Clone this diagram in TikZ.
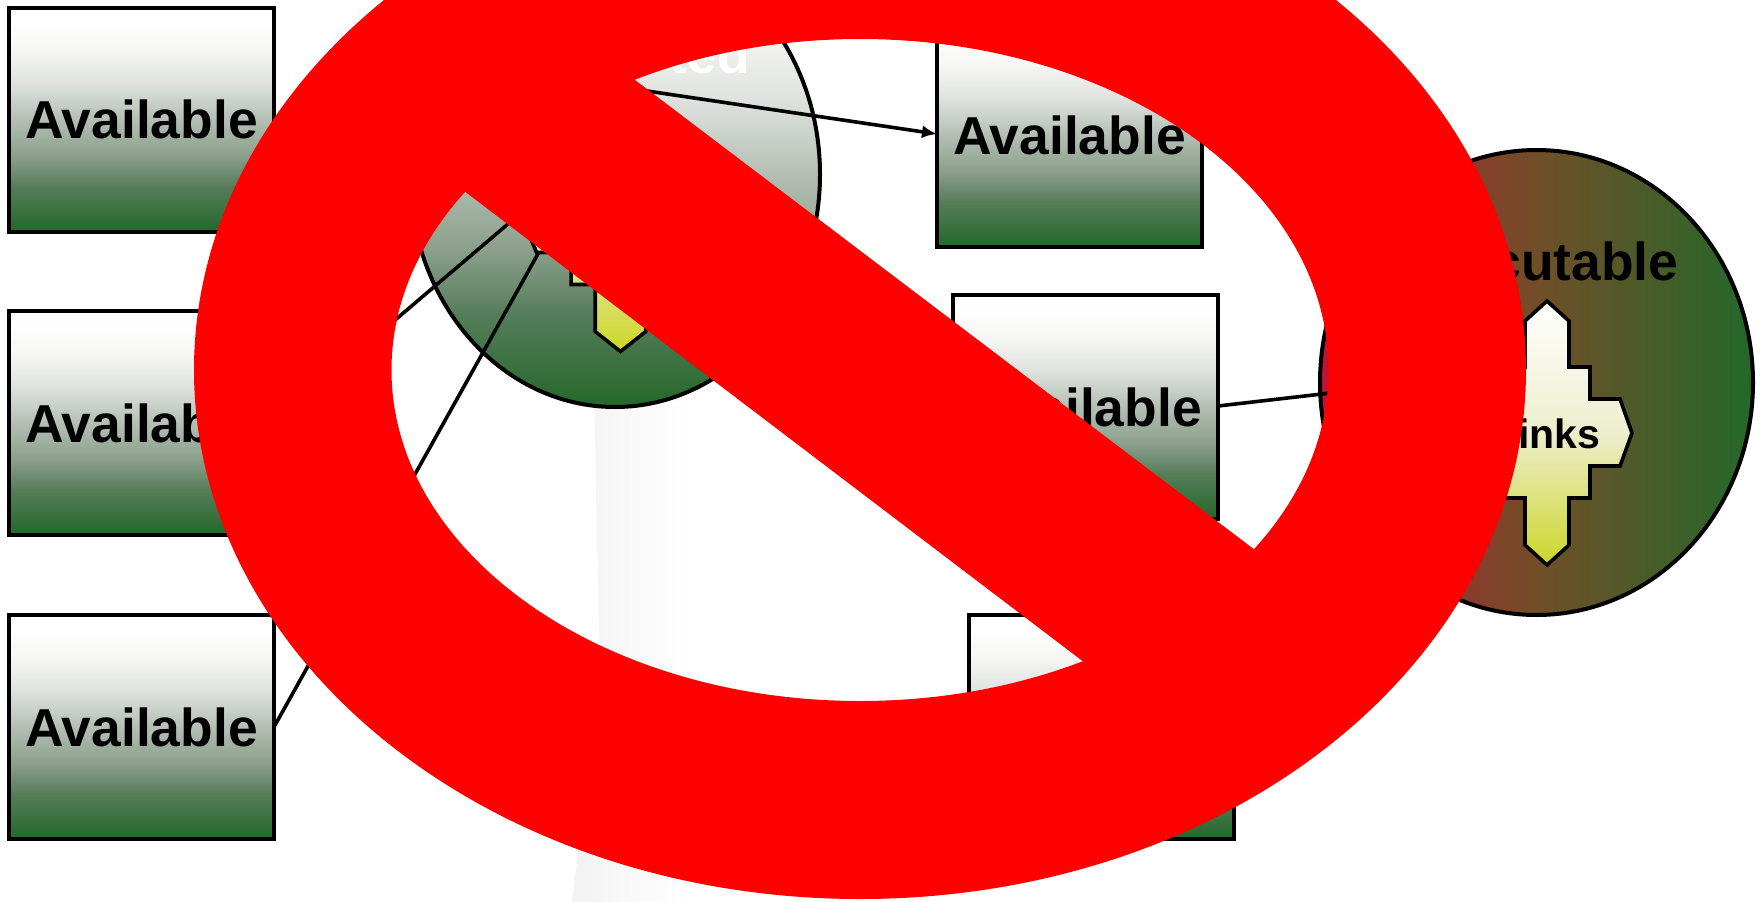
\documentclass[tikz,border=0pt]{standalone}
\usepackage{fontspec}
\setmainfont{Liberation Sans}
\usetikzlibrary{shapes.geometric,arrows.meta}

\definecolor{boxgreen}{RGB}{36,104,42}
\definecolor{linkyellow}{RGB}{204,214,40}
\definecolor{exered}{RGB}{190,20,50}
\definecolor{exemid}{RGB}{113,78,40}
\definecolor{linkmid}{RGB}{236,238,205}
\pgfdeclareverticalshading{availshade}{100bp}{rgb(0bp)=(.141,.408,.165); rgb(25bp)=(.141,.408,.165);
 rgb(35bp)=(.333,.49,.353); rgb(42bp)=(.549,.627,.549);
 rgb(50bp)=(.706,.749,.706); rgb(58bp)=(.871,.886,.871);
 rgb(65bp)=(.961,.961,.953); rgb(72bp)=(1,1,1); rgb(100bp)=(1,1,1)}
\tikzset{
 avail/.style={draw,line width=4pt,rectangle,minimum width=265pt,minimum height=224pt,inner sep=0pt,outer sep=0pt,
  shading=availshade,font=\fontsize{53.4pt}{60pt}\selectfont\bfseries},
 blob/.style={draw,line width=4pt,ellipse,inner sep=0pt,outer sep=0pt,minimum height=465pt},
 biglabel/.style={font=\fontsize{53.4pt}{60pt}\selectfont\bfseries,inner sep=0pt},
 linklabel/.style={font=\fontsize{41pt}{46pt}\selectfont\bfseries,inner sep=0pt},
 linkshape/.style={draw,line width=3.6pt,top color=white,bottom color=linkyellow,middle color=linkmid},
 wire/.style={line width=3.6pt}
}
\newcommand{\linkcross}[2]{
 \path[linkshape,shift={(#1)},xscale=#2] (0,-132)--(22,-112)--(22,-66)--(43,-66)--(43,-34)--(73,-34)--(85,0)--(73,33)
  --(43,33)--(43,65)--(22,65)--(22,112)--(0,132)--(-22,112)--(-22,65)--(-43,65)--(-43,33)--(-73,33)
  --(-85,0)--(-73,-34)--(-43,-34)--(-43,-66)--(-22,-66)--(-22,-112)--cycle;
}

\begin{document}
\begin{tikzpicture}[x=1pt,y=-1pt,>={Latex[length=15pt,width=13pt]}]
 \useasboundingbox (0,0) rectangle (1762,902);
 \clip (0,0) rectangle (1762,902);
 % faint smudge
 \shade[left color=black!5,right color=white,draw=none] (594,405)--(690,405)--(690,902)--(572,902)--(600,670)--cycle;

 \node[avail] (availone) at (141.5,119.5) {Available};
 \node[avail] (availtwo) at (141.5,423) {Available};
 \node[avail] (availthree) at (141.5,727) {Available};
 \node[avail] (availfour) at (1069.5,135) {Available};
 \node[avail] (availfive) at (1085.5,407) {Available};
 \node[avail] (availsix) at (1101.5,727) {Available};

 \node[blob,minimum width=410pt,shading=availshade] (loaded) at (615,174.5) {};
 \node[biglabel,white,anchor=base east] (loadedtext) at (750,73) {ted};
 \linkcross{620.5,219.5}{1.15}
 \coordinate (looptop) at (620,87);
 \coordinate (loopa) at (535,201);
 \coordinate (loopb) at (539,252);

 \node[blob,minimum width=433pt,left color=exered,right color=boxgreen,middle color=exemid] (exec) at (1536.5,382.5) {};
 \node[biglabel,anchor=base] (exectext) at (1537.5,280) {Executable};
 \linkcross{1547,433}{1}
 \node[linklabel,anchor=base] (linkstext) at (1547,448) {Links};
 \coordinate (execin) at (1400,385);

 \draw[wire] (availtwo.east)--(loopa);
 \draw[wire] (availthree.east)--(loopb);
 \draw[wire,->] (looptop)--(availfour.west |- 0,134);
 \draw[wire] (availfive.east |- 0,406)--(execin);

 % the sign on top
 \fill[red,even odd rule] (860,370) ellipse [x radius=666pt,y radius=529pt]
  (860,370) ellipse [x radius=468.5pt,y radius=331pt];
 \fill[red] (573,33)--(1317,597)--(1147,710)--(401,143)--cycle;
\end{tikzpicture}
\end{document}
